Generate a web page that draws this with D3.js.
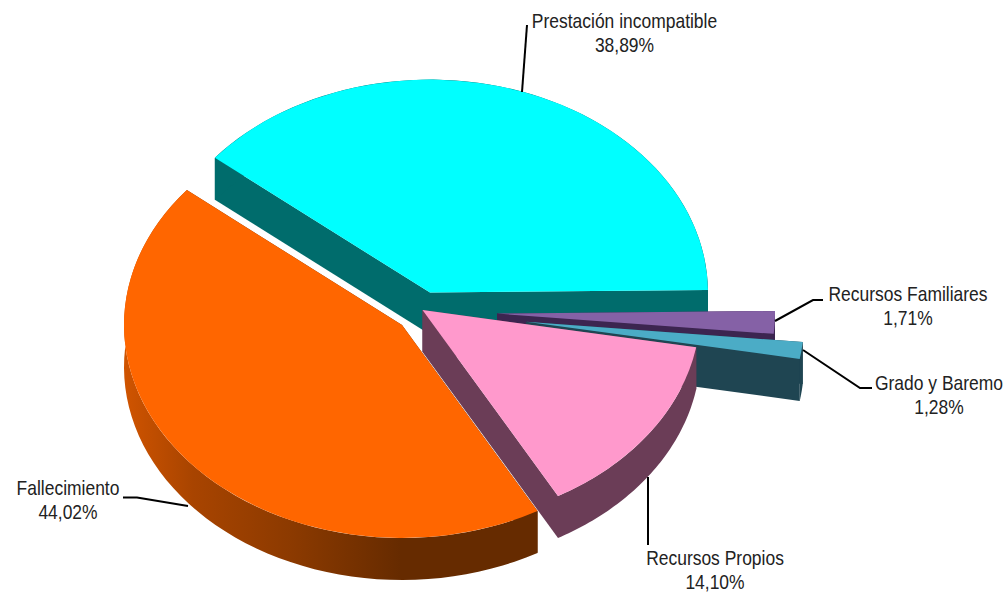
<!DOCTYPE html>
<html>
<head>
	<meta charset="utf-8">
	<title>pie</title>
	<style>
	body { margin: 0; background: #fff; }
	.label {
		font-family: "Liberation Sans", Arial, sans-serif;
		font-size: 20px;
		fill: #222;
		text-anchor: middle;
	}
	.leader {
		fill: none;
		stroke: #000;
		stroke-width: 2px;
	}
	</style>
	<script src="https://d3js.org/d3.v7.min.js"></script>
</head>
<body>
	<script type="text/javascript">
		// datos
		var categories = ['Prestación incompatible', 'Recursos Familiares', 'Grado y Baremo', 'Recursos Propios', 'Fallecimiento'];
		var values = [38.89, 1.71, 1.28, 14.10, 44.02];
		var valueLabels = ['38,89%', '1,71%', '1,28%', '14,10%', '44,02%'];

		// colores
		var topColors = ['#00ffff', '#8561a6', '#4bacc6', '#ff99cc', '#ff6600'];
		var wallColors = ['#006c6c', '#3c2550', '#1f4552', '#6b3d57', '#662b00'];

		// geometria del pastel
		var svgWidth = 1007;
		var svgHeight = 595;
		var cx = 420;
		var cy = 312;
		var rx = 278;
		var ry = 213;
		var depth = 42;
		var firstAngle = -50.7 * Math.PI / 180;

		// desplazamiento de cada porcion respecto al centro
		var explodeX = [10, 77, 106, 2.5, -18];
		var explodeY = [-19.4, 1.6, 9.7, -2, 13];

		// orden de dibujo, de atras hacia delante
		var drawOrder = [0, 1, 2, 4, 3];

		// etiquetas: centro del texto, lineas base
		var labelX = [624.5, 908, 939, 715, 68];
		var labelY = [28, 301, 390, 565, 495];
		var labelStretch = 0.873; // la fuente original es estrecha
		var leaders = [
			[[527, 25], [522, 92]],
			[[775, 321], [813, 300], [823, 300]],
			[[803, 350], [860, 388], [872, 388]],
			[[648, 477], [648, 545]],
			[[123, 497.5], [137, 497.5], [188, 506]]
		];

		var svg = d3.select('body').append('svg')
			.attr('width', svgWidth)
			.attr('height', svgHeight)
			.style('display', 'block');

		// degradado del lateral naranja
		var grad = svg.append('defs').append('linearGradient')
			.attr('id', 'orangeWall')
			.attr('x1', '0%').attr('x2', '67%').attr('y1', '0%').attr('y2', '0%');
		grad.append('stop').attr('offset', '0%').attr('stop-color', '#d05400');
		grad.append('stop').attr('offset', '25%').attr('stop-color', '#a84400');
		grad.append('stop').attr('offset', '60%').attr('stop-color', '#8c3a00');
		grad.append('stop').attr('offset', '100%').attr('stop-color', '#662b00');

		var pie = d3.pie()
			.sort(null)
			.startAngle(firstAngle)
			.endAngle(firstAngle + 2 * Math.PI);

		var slices = pie(values);

		var arc = d3.arc()
			.innerRadius(0)
			.outerRadius(rx);

		// punto del borde de la elipse
		function edge(angle) {
			return [rx * Math.sin(angle), -ry * Math.cos(angle)];
		}

		var wallArea = d3.area()
			.x(function (d) { return d[0]; })
			.y0(function (d) { return d[1]; })
			.y1(function (d) { return d[1] + depth; });

		drawOrder.forEach(function (i) {
			var s = slices[i];
			var g = svg.append('g')
				.attr('transform', 'translate(' + (cx + explodeX[i]) + ',' + (cy + explodeY[i]) + ')');

			var steps = d3.range(0, 61).map(function (k) {
				return edge(s.startAngle + (s.endAngle - s.startAngle) * k / 60);
			});
			var wallFill = i === 4 ? 'url(#orangeWall)' : wallColors[i];

			// caras de corte
			g.append('path')
				.attr('d', wallArea([[0, 0], steps[0]]))
				.attr('fill', wallColors[i]);
			g.append('path')
				.attr('d', wallArea([[0, 0], steps[steps.length - 1]]))
				.attr('fill', wallColors[i]);

			// lateral exterior
			g.append('path')
				.attr('d', wallArea(steps))
				.attr('fill', wallFill);

			// cara superior
			g.append('path')
				.attr('d', arc(s))
				.attr('transform', 'scale(1,' + (ry / rx) + ')')
				.attr('fill', topColors[i]);
		});

		// lineas guia
		var leaderLine = d3.line();
		svg.selectAll('.leader')
			.data(leaders)
			.enter()
			.append('path')
			.attr('class', 'leader')
			.attr('d', leaderLine);

		// textos
		var labels = svg.selectAll('.label')
			.data(categories)
			.enter()
			.append('text')
			.attr('class', 'label')
			.attr('transform', function (d, i) {
				return 'translate(' + labelX[i] + ',' + labelY[i] + ') scale(' + labelStretch + ',1)';
			});

		labels.append('tspan')
			.text(function (d) { return d; });

		labels.append('tspan')
			.attr('x', 0)
			.attr('dy', 24)
			.text(function (d, i) { return valueLabels[i]; });
	</script>
</body>
</html>
